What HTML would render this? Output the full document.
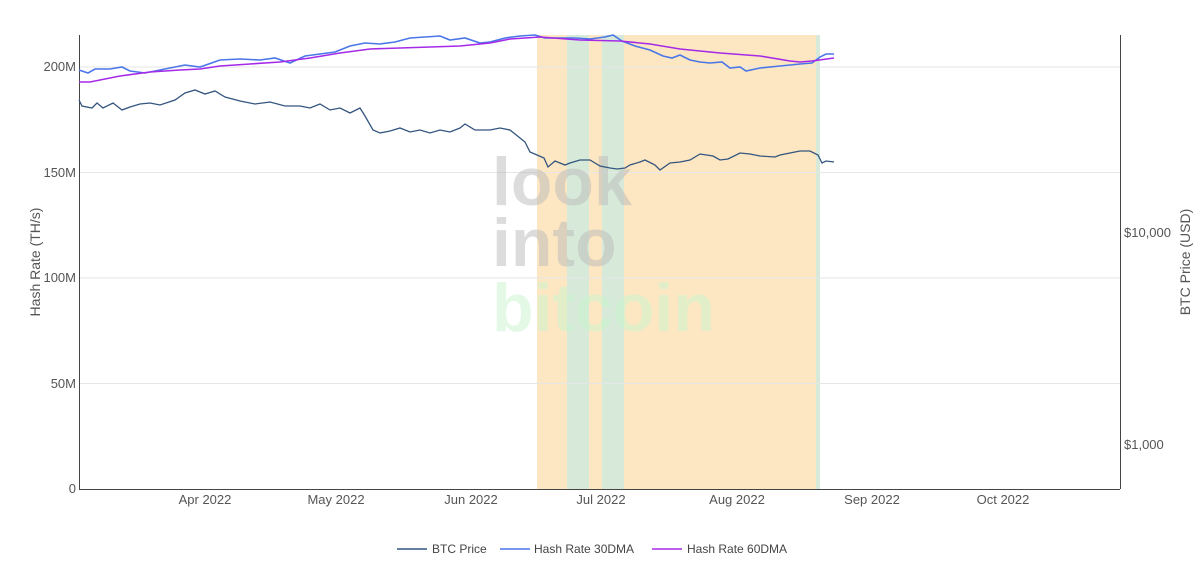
<!DOCTYPE html><html><head><style>body{margin:0;background:#fff}svg{font-family:"Liberation Sans",sans-serif}</style></head><body>
<svg width="1200" height="575" xmlns="http://www.w3.org/2000/svg">
<rect x="537" y="35" width="30" height="454" fill="#fde7c2"/>
<rect x="567" y="35" width="22" height="454" fill="#d7ead9"/>
<rect x="589" y="35" width="13" height="454" fill="#fde7c2"/>
<rect x="602" y="35" width="22" height="454" fill="#d7ead9"/>
<rect x="624" y="35" width="192" height="454" fill="#fde7c2"/>
<rect x="816" y="35" width="4" height="454" fill="#d7ead9"/>
<g stroke="#e6e6e6" stroke-width="1"><line x1="79" x2="1120" y1="383.5" y2="383.5"/><line x1="79" x2="1120" y1="278" y2="278"/><line x1="79" x2="1120" y1="172.5" y2="172.5"/><line x1="79" x2="1120" y1="67" y2="67"/></g>
<g font-size="68" font-weight="bold" opacity="0.5"><text x="492" y="205" fill="#bbb">look</text><text x="492" y="266" fill="#bbb">into</text><text x="492" y="331" fill="#c9f5cf">bitcoin</text></g>
<line x1="79.5" y1="35" x2="79.5" y2="489" stroke="#444"/><line x1="1120.5" y1="35" x2="1120.5" y2="489" stroke="#444"/><line x1="79" y1="489.5" x2="1120" y2="489.5" stroke="#444"/>
<g fill="none" stroke-width="1.3">
<polyline stroke="#34557f" points="79,100 82,106 92,108 97,103 103,108 113,103 122,110 130,107 140,104 150,103 160,105 175,100 185,93 195,90 205,94 215,91 225,97 240,101 255,104 270,102 285,106 300,106 310,108 320,104 330,110 340,108 350,113 360,108 365,116 373,130 380,133 390,131 400,128 410,132 420,130 430,133 440,130 450,132 460,128 465,124 475,130 490,130 500,128 510,130 520,138 525,142 530,152 537,155 544,158 548,167 555,161 565,165 570,163 580,160 590,160 600,166 610,168 617,169 625,168 630,165 640,162 645,160 655,165 660,170 670,163 680,162 690,160 700,154 713,156 720,160 728,159 740,153 750,154 760,156 775,157 780,155 790,153 800,151 810,151 818,155 822,163 826,161 834,162"/>
<polyline stroke="#4a76e8" stroke-width="1.6" points="79,70 88,73 95,69 110,69 122,67 130,71 145,73 160,70 185,65 200,67 220,60 240,59 260,60 275,58 290,63 305,56 320,54 335,52 350,46 365,43 380,44 395,42 410,38 425,37 440,36 450,40 465,38 480,43 490,42 505,38 520,36 535,35 545,38 560,38 575,38 590,39 605,37 613,35 622,41 635,46 650,50 663,56 672,58 680,55 690,60 700,62 710,63 722,62 730,68 740,67 746,71 760,68 780,66 800,64 812,63 820,57 826,54 834,54"/>
<polyline stroke="#a52ae8" stroke-width="1.6" points="79,82 90,82 120,76 150,72 180,70 200,69 220,66 250,64 280,62 310,58 340,53 370,49 400,48 430,47 460,46 490,43 510,39 540,37 580,40 620,41 650,44 680,49 720,53 760,56 790,61 800,62 812,61 834,58"/>
</g>
<g font-size="13" fill="#555" text-anchor="end"><text x="76" y="493">0</text><text x="76" y="388">50M</text><text x="76" y="282">100M</text><text x="76" y="177">150M</text><text x="76" y="71">200M</text></g>
<g font-size="13" fill="#555"><text x="1124" y="237">$10,000</text><text x="1124" y="449">$1,000</text></g>
<g font-size="13" fill="#555" text-anchor="middle"><text x="205" y="504">Apr 2022</text><text x="336" y="504">May 2022</text><text x="471" y="504">Jun 2022</text><text x="601" y="504">Jul 2022</text><text x="737" y="504">Aug 2022</text><text x="872" y="504">Sep 2022</text><text x="1003" y="504">Oct 2022</text></g>
<text font-size="14" fill="#555" text-anchor="middle" transform="translate(40,262) rotate(-90)">Hash Rate (TH/s)</text>
<text font-size="14" fill="#555" text-anchor="middle" transform="translate(1190,262) rotate(-90)">BTC Price (USD)</text>
<g font-size="12" fill="#444"><line x1="397" x2="427" y1="549" y2="549" stroke="#34557f" stroke-width="1.5"/><text x="432" y="553">BTC Price</text>
<line x1="500" x2="530" y1="549" y2="549" stroke="#4a76e8" stroke-width="1.5"/><text x="534" y="553">Hash Rate 30DMA</text>
<line x1="652" x2="682" y1="549" y2="549" stroke="#a52ae8" stroke-width="1.5"/><text x="687" y="553">Hash Rate 60DMA</text></g>
</svg></body></html>
